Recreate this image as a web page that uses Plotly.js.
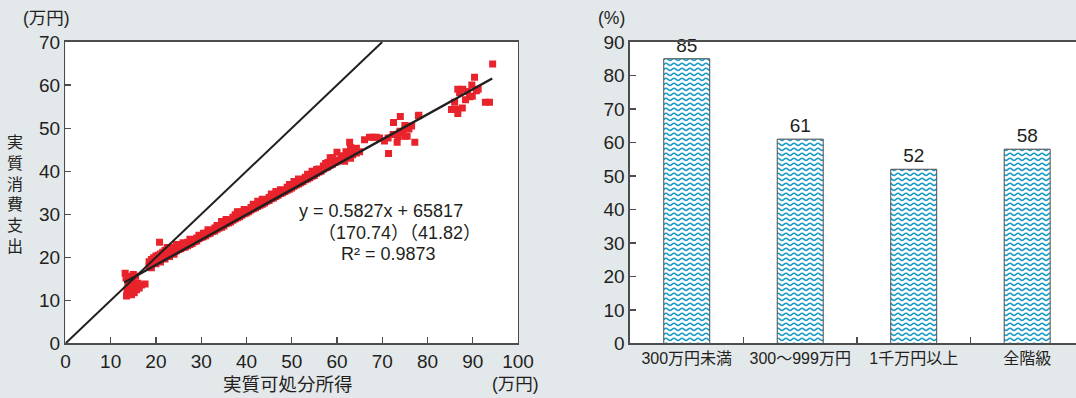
<!DOCTYPE html>
<html><head><meta charset="utf-8">
<script src="https://cdn.plot.ly/plotly-3.0.1.min.js"></script>
<style>html,body{margin:0;padding:0;background:#e3e8eb;}#chart{width:1076px;height:398px;}</style>
</head><body><div id="chart"></div>
<script>
// ---- Left panel: real disposable income (x) vs real consumption (y), 万円
const incomeX = [
  13.2,13.4,13.8,13.6,14.0,14.3,14.5,14.8,15.0,15.2,15.5,15.7,16.0,16.3,16.8,17.6,15.0,14.2,13.5,14.6,
  18.5,18.5,19.0,19.0,19.0,19.5,19.5,20.0,20.0,20.0,20.5,20.5,20.8,21.0,21.0,21.0,21.5,21.5,22.0,22.0,22.0,22.5,22.5,23.0,23.0,23.0,23.5,23.5,24.0,24.0,24.0,24.5,24.5,25.0,25.0,25.5,25.5,26.0,26.0,26.5,
  27,27,27.5,28,28,28.5,29,29,29.5,30,30,30.5,31,31,31.5,32,32,32.5,33,33,33.5,34,34,34.5,35,35,35.5,36,36,36.5,37,37,37.5,38,38,38.5,38.5,39,39,39.5,40,40,40.5,41,41,41.5,42,42,42.5,43,43,43.5,44,44,44.5,45,45,45.5,46,46,46.5,47,47,47.5,48,48,48.5,49,49,49.5,50,50,50.5,51,51,51.5,52,52,52.5,53,53,53.5,54,54,54.5,55,55,55.5,56,56,56.5,57,57,57.5,58,58,58.5,58.5,59,59,59.5,60,60,60.5,61,61,
  27.5,29.5,31.5,33.5,35.5,37.5,39.5,41.5,43.5,45.5,47.5,49.5,51.5,53.5,55.5,57.5,26,24.5,22.5,30.5,34.5,38,42.5,46.5,50.5,54.5,
  61.7,62,62,62.8,63,63,63,63.5,63.5,64.3,64.3,65,66.1,67.2,68,68.7,69.4,70.5,71.3,71.4,72.4,72.5,73.3,73.9,74,75,75,75.5,75.9,76.5,77.2,78,78.1,74.5,73.5,
  94.4,90.4,89.8,91.2,86.7,87.8,89.3,88.4,89.9,86.0,85.3,86.7,87.7,86.7,92.8,93.7,87.1,88.8,90.8
];
const spendY = [
  16.3,15.2,14.0,12.4,11.5,13.2,12.0,14.5,13.0,11.8,15.6,12.5,14.0,12.9,13.6,13.8,16.0,15.6,11.0,11.3,
  18.0,19.0,18.3,19.5,17.6,18.8,19.9,18.5,19.6,20.3,19.2,20.5,23.5,19.5,20.8,18.9,20.0,21.2,20.4,21.6,19.6,20.5,21.8,20.9,22.0,20.2,21.0,22.2,21.4,22.3,20.7,21.5,22.5,21.8,22.6,22.0,22.9,22.3,23.0,22.4,
  22.7,23.5,23.0,23.2,24.0,23.6,23.8,24.5,24.3,24.6,25.0,24.8,25.0,25.6,25.4,25.6,26.2,26.0,26.1,26.8,26.5,26.8,27.4,27.0,27.3,28.0,27.8,28.0,28.6,28.2,28.6,29.3,28.9,29.2,29.8,29.4,30.5,29.8,30.3,30.1,30.3,30.9,30.6,31.0,31.6,31.3,31.5,32.2,31.8,32.1,32.8,32.3,32.6,33.3,33.0,33.2,33.9,33.6,33.8,34.5,34.1,34.4,35.2,34.8,35.0,35.6,35.3,35.6,36.3,35.8,36.1,36.8,36.5,36.8,37.5,37.0,37.3,38.0,37.6,38.0,38.6,38.2,38.5,39.2,38.8,39.0,39.8,39.5,39.8,40.5,40.0,40.5,41.2,40.8,41.0,42.0,41.4,43.1,41.6,43.1,42.0,42.2,44.4,42.6,42.8,43.6,
  24.2,25.1,26.4,27.4,28.8,29.9,31.1,32.3,33.5,34.7,35.7,36.9,38.2,39.3,40.4,41.8,23.4,23.0,22.3,25.6,28.3,30.6,33.0,35.3,37.6,40.0,
  42.3,43.4,44.5,46.7,43.0,44.0,45.5,43.8,45.0,44.2,45.3,44.5,47.3,47.9,47.9,47.9,47.7,47.0,47.7,44.1,48.5,51.3,46.7,49.3,52.7,48.1,50.6,48.1,49.8,50.5,46.7,52.9,53.0,49.0,48.0,
  64.9,61.8,60.0,59.0,59.0,59.0,57.3,56.6,57.4,56.0,54.3,54.3,54.7,53.4,56.0,56.0,58.3,58.5,58.7
];
const regSlope = 0.5827;
const regIntercept = 6.5817;          // 65817円 = 6.5817万円
const regXRange = [13, 94.3];
const diagRange = [0, 70];
const regLabels = ["y = 0.5827x + 65817", "（170.74）（41.82）", "R² = 0.9873"];
const leftXTitle = "実質可処分所得";
const leftYTitle = ["実","質","消","費","支","出"];

// ---- Right panel
const classes = ["300万円未満", "300～999万円", "1千万円以上", "全階級"];
const ratios = [85, 61, 52, 58];

const FONT = 'Liberation Sans, "Noto Sans CJK JP", sans-serif';
const INK = '#231f20';
const AX = '#4d4d4d';
const TEAL = '#1a9bc6';

const data = [
  {type:'scatter', mode:'markers', x:incomeX, y:spendY, xaxis:'x', yaxis:'y',
   marker:{symbol:'square', size:7, color:'#e8232b'}, hoverinfo:'skip'},
  {type:'scatter', mode:'lines', x:diagRange, y:diagRange, xaxis:'x', yaxis:'y',
   line:{color:INK, width:2}},
  {type:'scatter', mode:'lines', x:regXRange, y:regXRange.map(v => regSlope*v + regIntercept),
   xaxis:'x', yaxis:'y', line:{color:INK, width:2.5}},
  {type:'bar', x:classes, y:ratios, xaxis:'x2', yaxis:'y2', width:0.405,
   marker:{color:TEAL, line:{color:AX, width:1},
           pattern:{shape:'-', fgcolor:TEAL, bgcolor:'#ffffff', size:5, solidity:0.4}},
   text:ratios.map(String), textposition:'outside', cliponaxis:false,
   textfont:{family:FONT, size:19, color:INK}}
];

const axCommon = {showgrid:false, zeroline:false, showline:true, linecolor:AX, linewidth:1.5,
  ticks:'inside', ticklen:6, tickcolor:AX, tickwidth:1.2,
  tickfont:{family:FONT, size:19, color:INK}};

const layout = {
  width:1076, height:398, margin:{l:0, r:0, t:0, b:0},
  paper_bgcolor:'#e3e8eb', plot_bgcolor:'#ffffff', showlegend:false,
  font:{family:FONT, color:INK},
  bargap:0,
  xaxis: Object.assign({}, axCommon, {domain:[0.0608, 0.4814], range:[0,100], dtick:10, mirror:true, anchor:'y'}),
  yaxis: Object.assign({}, axCommon, {domain:[0.137, 0.8945], range:[0,70], dtick:10, mirror:true, anchor:'x'}),
  xaxis2: Object.assign({}, axCommon, {domain:[0.5855, 1], range:[-0.5, 3.43], type:'category',
    tickson:'boundaries', mirror:true, anchor:'y2', tickangle:0, automargin:false,
    tickfont:{family:FONT, size:16, color:INK}}),
  yaxis2: Object.assign({}, axCommon, {domain:[0.137, 0.8945], range:[0,90], dtick:10, mirror:false, anchor:'x2'}),
  annotations: [
    {xref:'paper', yref:'paper', x:46/1076, y:1-18/398, text:'(万円)', showarrow:false,
     xanchor:'center', yanchor:'middle', font:{family:FONT, size:17.5, color:INK}},
    {xref:'paper', yref:'paper', x:611/1076, y:1-18/398, text:'(%)', showarrow:false,
     xanchor:'center', yanchor:'middle', font:{family:FONT, size:17.5, color:INK}},
    {xref:'paper', yref:'paper', x:288/1076, y:1-384/398, text:leftXTitle, showarrow:false,
     xanchor:'center', yanchor:'middle', font:{family:FONT, size:18.5, color:INK}},
    {xref:'paper', yref:'paper', x:515/1076, y:1-384/398, text:'(万円)', showarrow:false,
     xanchor:'center', yanchor:'middle', font:{family:FONT, size:17.5, color:INK}},
    {xref:'paper', yref:'paper', x:15/1076, y:1-194/398, text:leftYTitle.join('<br>'), showarrow:false,
     xanchor:'center', yanchor:'middle', font:{family:FONT, size:16, color:INK}},
    {xref:'paper', yref:'paper', x:297/1076, y:1-211/398, text:regLabels[0], showarrow:false,
     xanchor:'left', yanchor:'middle', font:{family:FONT, size:18, color:INK}},
    {xref:'paper', yref:'paper', x:316/1076, y:1-233/398, text:regLabels[1], showarrow:false,
     xanchor:'left', yanchor:'middle', font:{family:FONT, size:18, color:INK}},
    {xref:'paper', yref:'paper', x:339/1076, y:1-254/398, text:regLabels[2], showarrow:false,
     xanchor:'left', yanchor:'middle', font:{family:FONT, size:18, color:INK}}
  ]
};

Plotly.newPlot('chart', data, layout, {staticPlot:true, displayModeBar:false}).then(gd => {
  const ns = 'http://www.w3.org/2000/svg';
  gd.querySelectorAll('pattern').forEach(p => {
    p.setAttribute('width', '8'); p.setAttribute('height', '5');
    p.setAttribute('patternUnits', 'userSpaceOnUse');
    while (p.firstChild) p.removeChild(p.firstChild);
    const r = document.createElementNS(ns, 'rect');
    r.setAttribute('width', '8'); r.setAttribute('height', '5'); r.setAttribute('fill', '#ffffff');
    p.appendChild(r);
    const w = document.createElementNS(ns, 'path');
    w.setAttribute('d', 'M0,3.4 C1.5,3.4 2.5,1.2 4,1.2 C5.5,1.2 6.5,3.4 8,3.4');
    w.setAttribute('fill', 'none'); w.setAttribute('stroke', TEAL); w.setAttribute('stroke-width', '1.6');
    p.appendChild(w);
  });
});
</script>
</body></html>
